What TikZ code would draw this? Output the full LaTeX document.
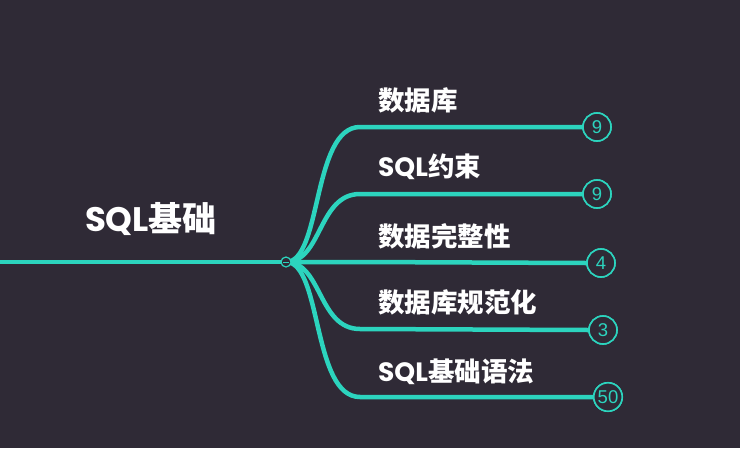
\documentclass[tikz,border=0pt]{standalone}
\usepackage{fontspec}
\newfontfamily\cjk{Noto Sans CJK SC}
\newfontfamily\pop{Poppins}
\newfontfamily\numf{Liberation Sans}
\definecolor{bg}{RGB}{47,42,54}
\definecolor{teal}{RGB}{44,212,190}
\tikzset{
  branch/.style={draw=teal, line width=4.5pt, line cap=round},
  lbl/.style={anchor=west, text=white, font=\fontsize{26.5}{29}\selectfont\cjk\bfseries, inner sep=0pt},
  cnt/.style={circle, draw=teal, line width=1.6pt, fill=bg, text=teal, font=\fontsize{18.5}{20}\selectfont\numf, minimum size=28pt, inner sep=1.5pt},
}
\begin{document}
\begin{tikzpicture}[x=1pt,y=-1pt]
\fill[bg] (0,0) rectangle (740,448);
\useasboundingbox (0,0) rectangle (740,448);
\coordinate (start) at (0,262);
\coordinate (j) at (286,262);
\coordinate (e1) at (360,127);
\coordinate (e2) at (360,194);
\coordinate (e3) at (360,262);
\coordinate (e4) at (360,329);
\coordinate (e5) at (360,397);
\node[cnt] (c1) at (597,127) {9};
\node[cnt] (c2) at (597,194) {9};
\node[cnt] (c3) at (601,263) {4};
\node[cnt] (c4) at (603,330) {3};
\node[cnt] (c5) at (608,397) {50};
\draw[branch] (start) -- (j);
\draw[branch] (j) .. controls (322,262) and (312,127) .. (e1) -- (c1.west);
\draw[branch] (j) .. controls (322,262) and (318,194) .. (e2) -- (c2.west);
\draw[branch] (j) -- (e3) -- (c3.west);
\draw[branch] (j) .. controls (322,262) and (318,329) .. (e4) -- (c4.west);
\draw[branch] (j) .. controls (322,262) and (312,397) .. (e5) -- (c5.west);
\node[cnt] at (c1) {9};
\node[cnt] at (c2) {9};
\node[cnt] at (c3) {4};
\node[cnt] at (c4) {3};
\node[cnt] at (c5) {50};
\node[circle, fill=bg, draw=teal, line width=1.2pt, minimum size=10pt, inner sep=0pt] (jc) at (j) {};
\draw[teal, line width=1pt] ([xshift=-3pt]jc.center) -- ([xshift=3pt]jc.center);
\node[anchor=center, text=white, font=\fontsize{34}{37}\selectfont\cjk\bfseries, inner sep=0pt] (title) at (151,219) {{\pop\bfseries SQL}基础};
\node[lbl] (l1) at (378,100) {数据库};
\node[lbl] (l2) at (378,167) {{\pop\bfseries SQL}约束};
\node[lbl] (l3) at (378,236) {数据完整性};
\node[lbl] (l4) at (378,302) {数据库规范化};
\node[lbl] (l5) at (378,372) {{\pop\bfseries SQL}基础语法};
\end{tikzpicture}
\end{document}
